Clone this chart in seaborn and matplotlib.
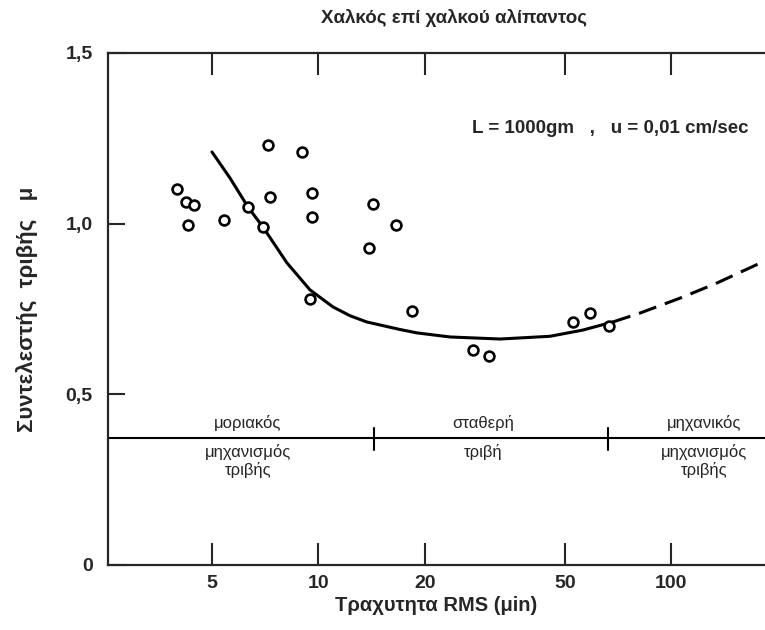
import matplotlib
matplotlib.use("Agg")
import matplotlib.pyplot as plt
import matplotlib.ticker as mticker
import seaborn as sns
import pandas as pd

# --- data ---
rough_x = [3.97, 4.21, 4.43, 4.26, 5.39, 6.31, 6.96, 7.19, 7.29, 8.97, 9.59,
           9.59, 9.46, 14.3, 13.9, 16.6, 18.4, 27.4, 30.5, 52.7, 58.9, 66.7]
mu_pts = [1.102, 1.064, 1.055, 0.996, 1.011, 1.049, 0.990, 1.231, 1.078, 1.210,
          1.090, 1.020, 0.779, 1.058, 0.929, 0.996, 0.744, 0.630, 0.612, 0.712,
          0.738, 0.700]

curve_x = [4.99, 5.61, 6.31, 6.96, 8.14, 9.46, 10.99, 12.3, 13.7, 17.0, 19.0,
           23.6, 32.7, 45.3, 56.0, 68.3]
curve_mu = [1.210, 1.134, 1.049, 0.990, 0.885, 0.806, 0.756, 0.730, 0.712, 0.690,
            0.680, 0.668, 0.662, 0.670, 0.688, 0.712]

dash_x = [68.3, 81.5, 107.9, 134.6, 184.3]
dash_mu = [0.712, 0.738, 0.785, 0.826, 0.891]

x_ticks = [5, 10, 20, 50, 100]
x_ticklabels = ["5", "10", "20", "50", "100"]
y_ticks = [0, 0.5, 1.0, 1.5]
y_ticklabels = ["0", "0,5", "1,0", "1,5"]

regime_level = 0.372
regime_bounds = [14.4, 66.1]
regime_pos = [6.31, 29.2, 123.9]
regime_top = ["μοριακός", "σταθερή", "μηχανικός"]
regime_bottom = ["μηχανισμός\nτριβής", "τριβή", "μηχανισμός\nτριβής"]

title = "Χαλκός επί χαλκού αλίπαντος"
xlabel = "Τραχυτητα RMS (μin)"
ylabel = "Συντελεστής  τριβής   μ"
note = "L = 1000gm   ,   u = 0,01 cm/sec"

# --- drawing ---
sns.set_style("ticks")
plt.rcParams["font.family"] = ["Liberation Sans", "DejaVu Sans"]

fig = plt.figure(figsize=(7.65, 6.3), dpi=100)
ax = fig.add_axes([0.1412, 0.1032, 0.8588, 0.8127])

pts = pd.DataFrame({"x": rough_x, "mu": mu_pts})
cur = pd.DataFrame({"x": curve_x, "mu": curve_mu})
dsh = pd.DataFrame({"x": dash_x, "mu": dash_mu})

sns.lineplot(data=cur, x="x", y="mu", ax=ax, color="black", lw=2.2,
             sort=False, estimator=None)
sns.lineplot(data=dsh, x="x", y="mu", ax=ax, color="black", lw=2.2,
             sort=False, estimator=None, linestyle=(0, (6, 3)))
sns.scatterplot(data=pts, x="x", y="mu", ax=ax, marker="o", s=50,
                facecolor="white", edgecolor="black", linewidth=1.9, zorder=5)

ax.set_xscale("log")
ax.set_xlim(2.532, 184.3)
ax.set_ylim(0, 1.5)

ax.xaxis.set_major_locator(mticker.FixedLocator(x_ticks))
ax.xaxis.set_major_formatter(mticker.FixedFormatter(x_ticklabels))
ax.xaxis.set_minor_locator(mticker.NullLocator())
ax.yaxis.set_major_locator(mticker.FixedLocator(y_ticks))
ax.yaxis.set_major_formatter(mticker.FixedFormatter(y_ticklabels))

ax.tick_params(axis="x", which="major", direction="in", length=16, width=1.5,
               top=True, bottom=True, pad=7, labelsize=14)
ax.tick_params(axis="y", which="major", direction="in", length=12, width=1.5,
               left=True, right=False, pad=11, labelsize=14)
for lab in ax.get_xticklabels() + ax.get_yticklabels():
    lab.set_fontweight("bold")

for side in ["left", "bottom", "top"]:
    ax.spines[side].set_linewidth(1.6)
ax.spines["right"].set_visible(False)

# regime line
ax.axhline(regime_level, color="black", lw=1.5)
for b in regime_bounds:
    ax.plot([b, b], [regime_level - 0.035, regime_level + 0.03], color="black", lw=1.5)
for xp, t in zip(regime_pos, regime_top):
    ax.text(xp, regime_level + 0.043, t, ha="center", va="center", fontsize=12)
for xp, t in zip(regime_pos, regime_bottom):
    ax.text(xp, regime_level - 0.018, t, ha="center", va="top", fontsize=12,
            linespacing=1.15)

ax.text(0.554, 0.852, note, transform=ax.transAxes, ha="left", va="center",
        fontsize=13.5, fontweight="bold")

ax.set_xlabel(xlabel, fontsize=14.5, fontweight="bold", labelpad=3)
ax.set_ylabel(ylabel, fontsize=16, fontweight="bold", labelpad=20)
fig.text(0.593, 0.971, title, ha="center", va="center", fontsize=13.5,
         fontweight="bold")

fig.savefig("out.png", dpi=100)
